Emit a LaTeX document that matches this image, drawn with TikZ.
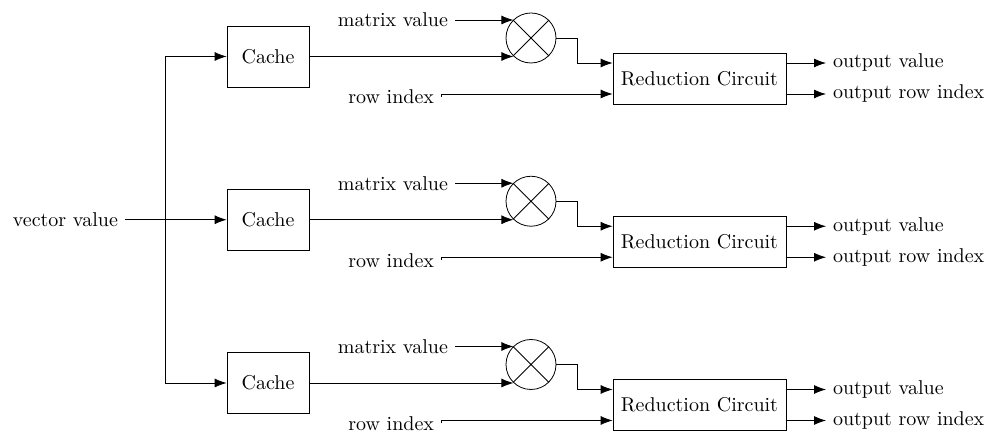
\documentclass[tikz,border=0pt]{standalone}
\usetikzlibrary{arrows.meta,calc}
\begin{document}
\begin{tikzpicture}[x=0.5pt,y=-0.5pt,
  >={Latex[length=6pt,width=4.5pt]},
  block/.style={draw,minimum width=41pt,minimum height=30.5pt,inner sep=0pt},
  reducer/.style={draw,minimum width=86.5pt,minimum height=25.5pt,inner sep=0pt},
  mult/.style={draw,circle,minimum size=25pt,inner sep=0pt},
  lbl/.style={inner sep=3.33pt}]
\useasboundingbox (0,0) rectangle (993,432);
% shared input that feeds every cache
\node[lbl,anchor=east] (vec) at (125,219.5) {vector value};
\coordinate (split) at (165.5,219.5);
\draw (vec.east) -- (split);
% one processing lane per row
\foreach \i/\cy in {1/56.5,2/219.75,3/383}{
  \node[block] (cache\i) at (268,\cy) {Cache};
  \node[mult] (mul\i) at (531,\cy-18.5) {};
  \draw (mul\i.north west) -- (mul\i.south east)
        (mul\i.north east) -- (mul\i.south west);
  \node[reducer] (red\i) at (699.5,\cy+22) {Reduction Circuit};
  \node[lbl,anchor=east] (mat\i) at (455,\cy-36.5) {matrix value};
  \node[lbl,anchor=east] (row\i) at (441,\cy+40.5) {row index};
  \node[lbl,anchor=west] (ov\i) at (826,\cy+6.5) {output value};
  \node[lbl,anchor=west] (ori\i) at (826,\cy+37.5) {output row index};
  \draw[->] (split) |- (cache\i.west);
  \draw[->] (mat\i.east) -- (mat\i.east -| mul\i.134);
  \draw[->] (cache\i.east) -- (cache\i.east -| mul\i.226);
  \draw[->] (mul\i.east) -- ++(21,0) |- ($(red\i.west)+(0,-15.5)$);
  \draw[->] (row\i.east) |- ($(red\i.west)+(0,15.5)$);
  \draw[->] ($(red\i.east)+(0,-15.5)$) -- (ov\i.west);
  \draw[->] ($(red\i.east)+(0,15.5)$) -- (ori\i.west);
}
\end{tikzpicture}
\end{document}
